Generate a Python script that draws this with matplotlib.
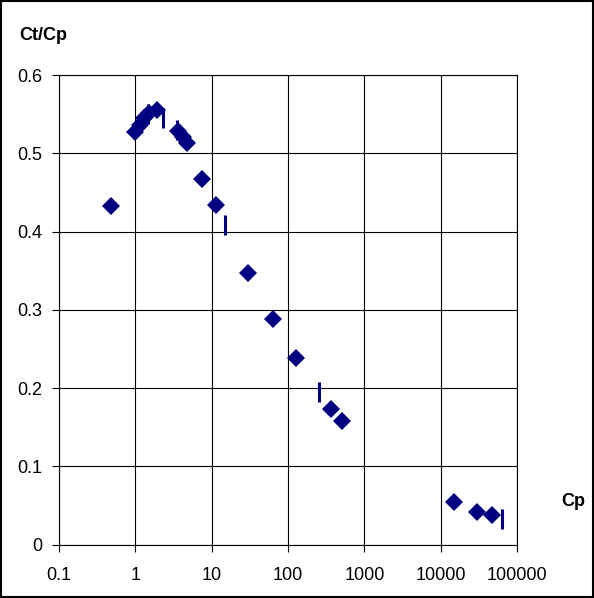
import matplotlib
matplotlib.use("Agg")
import matplotlib.pyplot as plt
from matplotlib.patches import Rectangle

# measured points (diamonds)
cp = [0.48, 1.0, 1.15, 1.3, 1.5, 1.9, 3.6, 4.2, 4.8, 7.55, 11.4, 30.3, 63.2, 126, 364, 505, 15000, 29800, 46800]
ct_cp = [0.433, 0.527, 0.537, 0.545, 0.552, 0.555, 0.529, 0.521, 0.513, 0.468, 0.434, 0.347, 0.288, 0.238, 0.173, 0.158, 0.054, 0.042, 0.038]

# second series (vertical bar markers)
cp_bar = [1.45, 2.3, 3.5, 15.1, 255, 63500]
ct_cp_bar = [0.55, 0.545, 0.53, 0.408, 0.195, 0.033]

xticks = [0.1, 1, 10, 100, 1000, 10000, 100000]
xlabels = ["0.1", "1", "10", "100", "1000", "10000", "100000"]
yticks = [0, 0.1, 0.2, 0.3, 0.4, 0.5, 0.6]
ylabels = ["0", "0.1", "0.2", "0.3", "0.4", "0.5", "0.6"]

plt.rcParams['font.family'] = ['Liberation Sans', 'DejaVu Sans']
navy = '#000080'

fig = plt.figure(figsize=(5.94, 5.98), dpi=100)
ax = fig.add_axes([59/594, 1 - 544.5/598, (517-59)/594, (544.5-75.3)/598])

ax.plot(cp_bar, ct_cp_bar, linestyle='none', marker='|', markersize=14,
        markeredgewidth=2.2, color=navy, zorder=3)
ax.plot(cp, ct_cp, linestyle='none', marker='D', markersize=9.6,
        color=navy, markeredgewidth=0, zorder=4)

ax.set_xscale('log')
ax.set_xlim(0.1, 100000)
ax.set_ylim(0, 0.6)
ax.set_xticks(xticks)
ax.set_xticklabels(xlabels)
ax.set_yticks(yticks)
ax.set_yticklabels(ylabels)
ax.minorticks_off()
ax.grid(True, color='black', linewidth=0.8)
ax.set_axisbelow(True)
for s in ax.spines.values():
    s.set_linewidth(0.8)
    s.set_color('black')
ax.tick_params(axis='x', direction='out', length=5, width=0.8, pad=11, labelsize=13)
ax.tick_params(axis='y', direction='out', length=5, width=0.8, pad=7, labelsize=13)

fig.text(19/594, 1 - 36/598, "Ct/Cp", fontsize=13, fontweight='bold', va='center', ha='left')
fig.text(573/594, 1 - 502/598, "Cp", fontsize=13, fontweight='bold', va='center', ha='center')

fig.patches.append(Rectangle((0.002, 0.002), 0.996, 0.996, transform=fig.transFigure,
                             fill=False, edgecolor='black', linewidth=1.5))

fig.savefig("out.png", dpi=100)
